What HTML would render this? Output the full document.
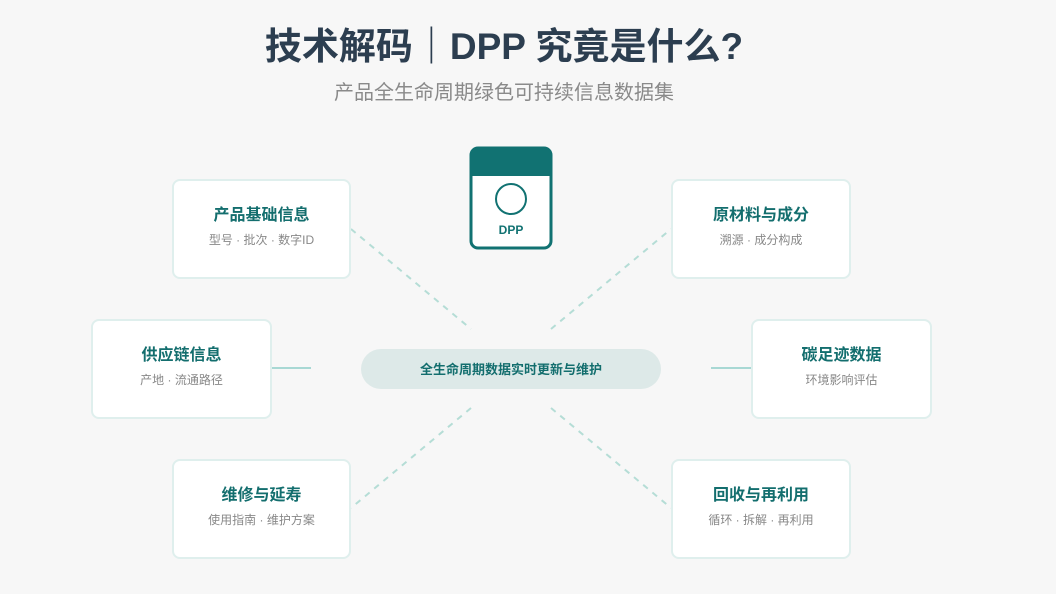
<!DOCTYPE html>
<html><head><meta charset="utf-8"><style>
body{margin:0;width:1056px;height:594px;background:#f7f7f7;font-family:"Liberation Sans","Noto Sans CJK SC",sans-serif;position:relative;overflow:hidden}
.t{position:absolute;left:0;width:1008px;text-align:center}
.card{position:absolute;width:179px;height:100px;background:#fff;border:2px solid #dfefed;border-radius:8px;box-sizing:border-box;text-align:center}
.card b{display:block;margin-top:20px;font-size:16px;color:#136e6e}
.card span{display:block;margin-top:6px;font-size:12px;color:#888}
</style></head><body>
<div class="t" style="top:21px;font-size:37px;font-weight:bold;color:#2c3e50;line-height:52px">技术解码｜DPP 究竟是什么?</div>
<div class="t" style="top:79px;font-size:20px;color:#8a8a8a;line-height:28px">产品全生命周期绿色可持续信息数据集</div>
<svg width="1056" height="594" style="position:absolute;left:0;top:0">
<g stroke="#b5ddd6" stroke-width="2" stroke-dasharray="6,6">
<line x1="351" y1="229" x2="471" y2="329"/><line x1="551" y1="329" x2="671" y2="229"/>
<line x1="471" y1="408" x2="351" y2="508"/><line x1="551" y1="408" x2="671" y2="508"/>
</g>
<g stroke="#a8d8d4" stroke-width="2"><line x1="271" y1="368" x2="311" y2="368"/><line x1="711" y1="368" x2="751" y2="368"/></g>
<rect x="361" y="349" width="300" height="40" rx="20" fill="#dde9e8"/>
<text x="511" y="374" text-anchor="middle" font-size="13" font-weight="bold" fill="#136e6e" font-family="Liberation Sans,Noto Sans CJK SC,sans-serif">全生命周期数据实时更新与维护</text>
<rect x="471" y="148" width="80" height="100" rx="7" fill="#fff" stroke="#117272" stroke-width="3"/>
<path d="M471 176 V155 a7 7 0 0 1 7 -7 H544 a7 7 0 0 1 7 7 V176 Z" fill="#117272"/>
<circle cx="511" cy="199" r="15" fill="none" stroke="#117272" stroke-width="2"/>
<text x="511" y="234" text-anchor="middle" font-size="12" font-weight="bold" fill="#117272" font-family="Liberation Sans,sans-serif">DPP</text>
</svg>
<div class="card" style="left:172px;top:179px"><b>产品基础信息</b><span>型号 · 批次 · 数字ID</span></div>
<div class="card" style="left:91px;top:319px;width:181px"><b>供应链信息</b><span>产地 · 流通路径</span></div>
<div class="card" style="left:172px;top:459px"><b>维修与延寿</b><span>使用指南 · 维护方案</span></div>
<div class="card" style="left:671px;top:179px;width:180px"><b>原材料与成分</b><span>溯源 · 成分构成</span></div>
<div class="card" style="left:751px;top:319px;width:181px"><b>碳足迹数据</b><span>环境影响评估</span></div>
<div class="card" style="left:671px;top:459px;width:180px"><b>回收与再利用</b><span>循环 · 拆解 · 再利用</span></div>
</body></html>
